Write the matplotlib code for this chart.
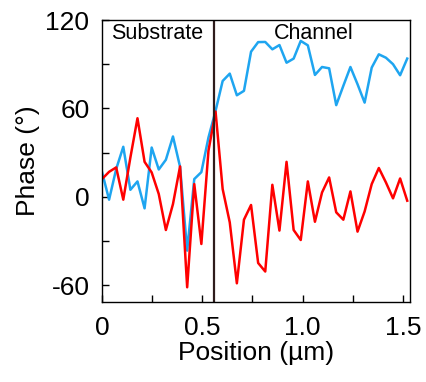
import numpy as np
import matplotlib.pyplot as plt
from matplotlib.ticker import MultipleLocator

plt.rcParams['font.family'] = ['Liberation Sans', 'DejaVu Sans']

step = 0.0354
blue = [16.9, -2, 18.8, 33.9, 4.7, 10.4, -7.9, 33.4, 18.5, 25.1, 40.9, 20.3,
        -36.6, 12, 16.7, 40.2, 58.3, 78.6, 83.6, 68.9, 71.9, 98.5, 105,
        105.1, 100.1, 103, 91, 93.8, 105.8, 102.8, 82.7, 88.1, 87.2, 62.2,
        75.3, 88.1, 76.4, 63.9, 87.7, 96.7, 94.4, 90, 82.5, 93.8]
red = [12, 16.9, 19.9, -2, 26.6, 53.3, 23.7, 16.5, 1.8, -22.6, -5, 20.6,
       -61.5, 8.6, -32.1, 31.2, 57.8, 5.2, -17.4, -58.8, -15.6, -5.6, -45,
       -50.8, 8.1, -23, 23.7, -22.6, -29.4, 10.4, -17, 2.9, 13.1, -10.6,
       -15.6, 3.6, -23.7, -10, 8.6, 19.5, 9.7, -1.1, 12.4, -2.7]
position = np.arange(len(blue)) * step
boundary = 0.56

fig = plt.figure(figsize=(4.26, 3.82), dpi=100)
ax = fig.add_axes([0.2394, 0.2094, 0.723, 0.7382])

ax.plot(position, blue, color='#1ea5f0', lw=1.8)
ax.plot(position, red, color='#ff0000', lw=1.8)
ax.axvline(boundary, color='#2e1c1c', lw=1.6)

ax.text(0.277, 111, 'Substrate', fontsize=15.5, ha='center', va='center')
ax.text(1.056, 111, 'Channel', fontsize=15.5, ha='center', va='center')

ax.set_xlim(0, 1.536)
ax.set_ylim(-71.5, 120)
ax.xaxis.set_minor_locator(MultipleLocator(0.25))
ax.yaxis.set_minor_locator(MultipleLocator(30))
ax.set_xticks([0, 0.5, 1.0, 1.5])
ax.set_xticklabels(['0', '0.5', '1.0', '1.5'])
ax.set_yticks([-60, 0, 60, 120])
ax.set_yticklabels(['-60', '0', '60', '120'])
ax.tick_params(which='both', direction='in', length=5, width=1, labelsize=19)
ax.tick_params(axis='x', pad=10)
ax.tick_params(axis='y', pad=9)
for s in ax.spines.values():
    s.set_linewidth(1)

ax.set_xlabel('Position (µm)', fontsize=19, labelpad=1)
ax.set_ylabel('Phase (°)', fontsize=19, labelpad=4)

fig.savefig('out.png', dpi=100)
